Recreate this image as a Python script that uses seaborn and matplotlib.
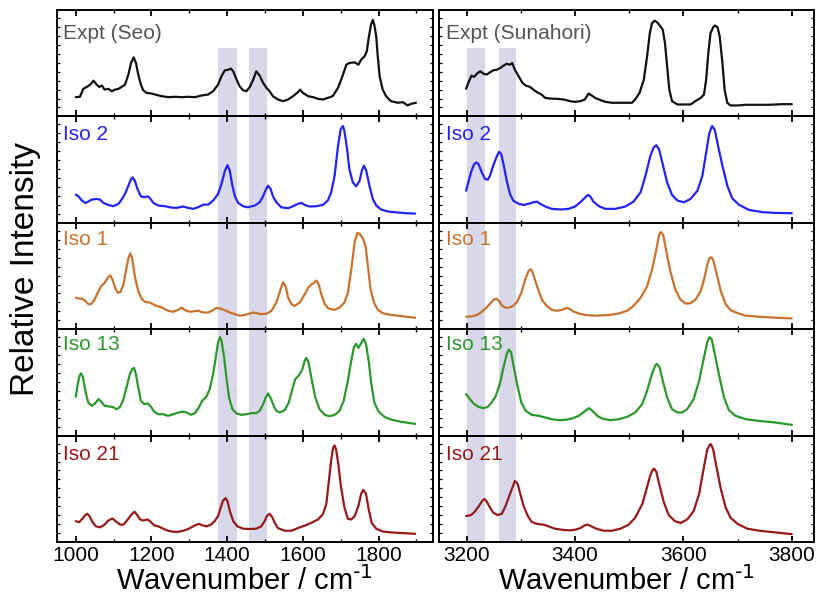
import numpy as np
import pandas as pd
import matplotlib
matplotlib.use("Agg")
import matplotlib.pyplot as plt
from matplotlib.ticker import MultipleLocator, FixedLocator
import seaborn as sns

# ---------------- data (intensity = fraction of panel height) -------------
# Low-frequency column (1000-1900 cm-1)
seo_wn = [1000, 1011, 1020, 1029, 1038, 1047, 1055, 1062, 1069, 1076, 1086, 1095, 1104, 1113, 1121, 1130,
          1139, 1146, 1153, 1159, 1165, 1172, 1178, 1187, 1200, 1209, 1227, 1244, 1262, 1280, 1297, 1315,
          1332, 1350, 1363, 1376, 1385, 1394, 1403, 1410, 1416, 1425, 1433, 1442, 1451, 1460, 1469, 1477,
          1486, 1495, 1504, 1512, 1521, 1534, 1548, 1561, 1574, 1587, 1593, 1600, 1614, 1627, 1640, 1653,
          1666, 1679, 1693, 1703, 1715, 1723, 1737, 1747, 1754, 1763, 1769, 1774, 1780, 1785, 1789, 1794,
          1798, 1803, 1811, 1820, 1833, 1851, 1864, 1877, 1886, 1899]
seo_int = [.181, .184, .259, .277, .299, .336, .299, .277, .290, .252, .259, .237, .252, .259, .277, .299,
           .393, .502, .555, .502, .393, .299, .246, .221, .215, .206, .190, .181, .184, .181, .184, .181,
           .196, .206, .237, .299, .377, .433, .439, .449, .424, .346, .283, .246, .237, .277, .346, .424,
           .383, .315, .268, .237, .190, .159, .143, .159, .190, .227, .252, .221, .190, .181, .165, .159,
           .174, .190, .268, .361, .486, .502, .508, .486, .533, .564, .611, .735, .860, .907, .860, .751,
           .564, .377, .252, .190, .143, .128, .134, .103, .118, .128]

iso2_lo_wn = [1000, 1007, 1016, 1025, 1033, 1042, 1055, 1064, 1073, 1086, 1099, 1113, 1121, 1130, 1139, 1146,
              1150, 1156, 1163, 1172, 1181, 1190, 1196, 1205, 1218, 1236, 1253, 1266, 1284, 1297, 1310, 1323,
              1337, 1350, 1363, 1376, 1385, 1394, 1401, 1407, 1413, 1420, 1429, 1442, 1455, 1473, 1486, 1495,
              1501, 1508, 1515, 1521, 1530, 1543, 1561, 1574, 1587, 1596, 1605, 1618, 1636, 1653, 1666, 1675,
              1684, 1693, 1700, 1706, 1710, 1717, 1723, 1732, 1741, 1750, 1756, 1761, 1767, 1776, 1785, 1794,
              1807, 1825, 1851, 1873, 1897]
iso2_lo_int = [.265, .249, .209, .187, .199, .218, .224, .218, .187, .168, .156, .178, .218, .271, .349, .411,
               .427, .396, .318, .249, .240, .249, .231, .187, .162, .156, .143, .140, .153, .140, .131, .146,
               .171, .171, .209, .271, .364, .489, .542, .489, .364, .255, .187, .156, .146, .162, .193, .249,
               .302, .349, .318, .249, .193, .146, .137, .156, .178, .187, .168, .153, .156, .168, .209, .287,
               .442, .723, .879, .910, .863, .692, .505, .380, .343, .396, .489, .536, .498, .349, .224, .162,
               .125, .106, .097, .090, .087]

iso1_lo_wn = [1000, 1009, 1016, 1025, 1033, 1040, 1049, 1058, 1067, 1076, 1084, 1091, 1097, 1104, 1111, 1118,
              1126, 1133, 1139, 1144, 1149, 1156, 1165, 1174, 1183, 1196, 1209, 1227, 1244, 1257, 1271, 1280,
              1288, 1302, 1315, 1323, 1337, 1350, 1363, 1372, 1381, 1394, 1407, 1420, 1433, 1447, 1460, 1469,
              1477, 1490, 1504, 1517, 1530, 1541, 1548, 1555, 1561, 1570, 1578, 1592, 1605, 1614, 1622, 1629,
              1636, 1642, 1649, 1658, 1668, 1684, 1697, 1710, 1719, 1728, 1737, 1744, 1750, 1759, 1766, 1772,
              1779, 1788, 1798, 1811, 1829, 1851, 1873, 1897]
iso1_lo_int = [.296, .287, .287, .265, .235, .235, .275, .343, .404, .435, .481, .506, .466, .389, .343, .349,
               .420, .559, .667, .713, .667, .497, .358, .287, .256, .250, .225, .204, .173, .164, .182, .204,
               .179, .164, .170, .173, .157, .157, .179, .201, .194, .179, .157, .142, .127, .133, .148, .157,
               .151, .142, .145, .173, .250, .373, .441, .398, .296, .235, .219, .250, .327, .389, .420, .435,
               .457, .420, .327, .235, .194, .182, .204, .250, .343, .559, .821, .904, .898, .852, .775, .590,
               .373, .250, .182, .151, .136, .127, .117, .108]

iso13_lo_wn = [1000, 1005, 1010, 1014, 1019, 1026, 1033, 1042, 1051, 1060, 1067, 1076, 1086, 1097, 1108, 1117,
               1126, 1134, 1143, 1149, 1154, 1159, 1165, 1172, 1181, 1190, 1199, 1207, 1218, 1231, 1244, 1258,
               1271, 1284, 1293, 1304, 1315, 1325, 1334, 1345, 1354, 1363, 1370, 1376, 1381, 1385, 1392, 1398,
               1405, 1414, 1425, 1438, 1451, 1464, 1477, 1486, 1495, 1502, 1508, 1515, 1523, 1530, 1539, 1552,
               1563, 1571, 1580, 1589, 1598, 1605, 1609, 1615, 1624, 1633, 1644, 1658, 1671, 1684, 1697, 1708,
               1719, 1728, 1735, 1741, 1747, 1754, 1761, 1767, 1774, 1781, 1789, 1800, 1816, 1833, 1860, 1897]
iso13_lo_int = [.365, .484, .563, .585, .547, .406, .311, .280, .302, .343, .321, .280, .274, .270, .248, .270,
                .343, .453, .579, .626, .635, .579, .453, .327, .296, .302, .270, .226, .201, .201, .186, .201,
                .217, .226, .217, .195, .211, .264, .327, .365, .437, .579, .736, .877, .925, .893, .736, .547,
                .358, .248, .208, .195, .201, .211, .211, .233, .296, .358, .396, .352, .280, .233, .217, .239,
                .311, .421, .531, .563, .616, .704, .730, .689, .516, .358, .248, .195, .182, .195, .233, .327,
                .516, .704, .830, .862, .824, .868, .909, .862, .704, .484, .311, .226, .176, .151, .129, .110]

iso21_lo_wn = [1000, 1009, 1018, 1025, 1030, 1036, 1044, 1053, 1064, 1076, 1086, 1097, 1105, 1117, 1126, 1134,
               1146, 1155, 1161, 1170, 1178, 1190, 1196, 1207, 1218, 1231, 1244, 1258, 1271, 1284, 1297, 1310,
               1319, 1326, 1334, 1345, 1357, 1367, 1376, 1383, 1389, 1396, 1401, 1407, 1416, 1427, 1442, 1460,
               1477, 1490, 1499, 1505, 1512, 1519, 1526, 1534, 1552, 1570, 1587, 1605, 1622, 1640, 1653, 1662,
               1668, 1675, 1680, 1684, 1688, 1694, 1701, 1710, 1719, 1728, 1737, 1747, 1754, 1760, 1767, 1774,
               1782, 1794, 1811, 1833, 1868, 1897]
iso21_lo_int = [.196, .186, .221, .253, .266, .244, .189, .147, .138, .163, .202, .221, .196, .163, .163, .196,
                .253, .285, .260, .212, .202, .212, .196, .157, .147, .125, .106, .096, .096, .106, .122, .147,
                .163, .170, .157, .147, .163, .196, .244, .324, .388, .413, .381, .292, .196, .147, .125, .122,
                .125, .147, .196, .244, .266, .234, .179, .131, .106, .106, .131, .154, .179, .212, .260, .356,
                .548, .772, .885, .907, .869, .724, .516, .324, .218, .212, .244, .340, .452, .490, .452, .308,
                .179, .125, .099, .090, .083, .077]

# High-frequency column (3200-3800 cm-1)
suna_wn = [3199, 3203, 3209, 3214, 3219, 3225, 3231, 3237, 3243, 3249, 3256, 3262, 3268, 3274, 3280, 3284,
           3289, 3296, 3303, 3309, 3317, 3323, 3330, 3338, 3345, 3354, 3367, 3379, 3391, 3400, 3410, 3418,
           3422, 3425, 3431, 3437, 3447, 3456, 3468, 3481, 3496, 3505, 3511, 3519, 3527, 3533, 3538, 3542,
           3547, 3552, 3558, 3562, 3566, 3570, 3574, 3579, 3589, 3601, 3613, 3622, 3632, 3638, 3642, 3646,
           3650, 3655, 3658, 3663, 3667, 3672, 3676, 3681, 3687, 3700, 3715, 3733, 3758, 3783, 3800]
suna_int = [.259, .315, .383, .371, .402, .424, .402, .393, .414, .433, .439, .455, .477, .495, .486, .502,
            .439, .377, .315, .290, .277, .252, .227, .206, .174, .168, .165, .159, .143, .137, .143, .159,
            .190, .215, .196, .174, .153, .137, .128, .128, .128, .128, .159, .221, .346, .564, .782, .875,
            .900, .882, .844, .813, .688, .470, .252, .143, .112, .112, .112, .143, .174, .206, .346, .595,
            .782, .838, .854, .838, .751, .502, .252, .128, .103, .103, .109, .109, .109, .115, .115]

iso2_hi_wn = [3199, 3203, 3209, 3214, 3218, 3222, 3228, 3234, 3239, 3243, 3249, 3256, 3260, 3264, 3268, 3274,
              3280, 3286, 3296, 3305, 3314, 3323, 3330, 3336, 3345, 3357, 3373, 3388, 3400, 3410, 3419, 3424,
              3428, 3434, 3444, 3456, 3474, 3493, 3508, 3521, 3530, 3539, 3545, 3550, 3555, 3561, 3570, 3579,
              3589, 3601, 3613, 3626, 3635, 3642, 3648, 3653, 3658, 3664, 3672, 3681, 3690, 3703, 3721, 3746,
              3770, 3800]
iso2_hi_int = [.302, .380, .489, .551, .567, .551, .474, .411, .405, .442, .536, .629, .667, .645, .551, .396,
               .271, .209, .178, .168, .178, .193, .199, .178, .153, .131, .125, .131, .153, .193, .240, .262,
               .249, .199, .156, .131, .131, .153, .199, .287, .442, .629, .707, .729, .692, .567, .380, .262,
               .209, .193, .224, .302, .442, .660, .847, .910, .872, .723, .536, .349, .231, .168, .121, .100,
               .093, .090]

iso1_hi_wn = [3199, 3209, 3219, 3228, 3237, 3246, 3251, 3255, 3260, 3265, 3271, 3277, 3284, 3293, 3301, 3308,
              3314, 3318, 3321, 3326, 3333, 3339, 3348, 3357, 3367, 3376, 3383, 3387, 3391, 3397, 3407, 3419,
              3437, 3462, 3481, 3496, 3508, 3521, 3533, 3542, 3550, 3555, 3558, 3563, 3568, 3576, 3585, 3595,
              3604, 3613, 3622, 3632, 3638, 3644, 3648, 3652, 3655, 3661, 3669, 3678, 3687, 3700, 3715, 3740,
              3770, 3800]
iso1_hi_int = [.117, .120, .133, .164, .204, .256, .281, .287, .265, .225, .204, .201, .213, .256, .343, .466,
               .543, .565, .543, .466, .358, .275, .219, .182, .173, .182, .198, .198, .188, .167, .148, .133,
               .127, .133, .148, .173, .219, .296, .404, .559, .744, .883, .914, .883, .744, .543, .373, .275,
               .241, .244, .275, .358, .466, .605, .667, .676, .651, .528, .358, .235, .179, .151, .127, .117,
               .108, .102]

iso13_hi_wn = [3199, 3206, 3214, 3222, 3231, 3239, 3246, 3254, 3262, 3268, 3274, 3278, 3282, 3286, 3293, 3301,
               3309, 3320, 3333, 3345, 3357, 3370, 3382, 3394, 3407, 3419, 3426, 3432, 3441, 3450, 3465, 3481,
               3496, 3511, 3524, 3533, 3542, 3548, 3551, 3556, 3562, 3570, 3579, 3589, 3598, 3607, 3619, 3629,
               3638, 3644, 3648, 3652, 3658, 3666, 3675, 3684, 3696, 3715, 3740, 3770, 3800]
iso13_hi_int = [.390, .343, .296, .270, .258, .270, .311, .374, .500, .642, .767, .808, .783, .673, .484, .311,
                .233, .195, .186, .170, .154, .145, .148, .160, .186, .233, .258, .233, .186, .160, .145, .154,
                .176, .217, .296, .421, .579, .657, .673, .642, .516, .358, .248, .217, .217, .248, .343, .516,
                .736, .877, .925, .909, .767, .563, .358, .239, .186, .154, .138, .123, .101]

iso21_hi_wn = [3199, 3208, 3215, 3223, 3229, 3233, 3237, 3243, 3249, 3257, 3265, 3272, 3280, 3286, 3289, 3294,
               3299, 3305, 3313, 3320, 3330, 3342, 3351, 3363, 3376, 3388, 3400, 3410, 3418, 3424, 3430, 3441,
               3453, 3468, 3484, 3499, 3511, 3524, 3533, 3539, 3544, 3546, 3550, 3556, 3564, 3573, 3584, 3595,
               3607, 3619, 3629, 3638, 3644, 3649, 3651, 3655, 3661, 3669, 3678, 3687, 3700, 3718, 3740, 3770,
               3800]
iso21_hi_int = [.244, .253, .285, .340, .388, .404, .381, .324, .276, .253, .266, .340, .452, .532, .574, .548,
                .452, .340, .244, .189, .170, .163, .147, .125, .115, .109, .115, .131, .157, .163, .147, .122,
                .106, .106, .125, .163, .228, .356, .516, .628, .683, .689, .660, .532, .372, .253, .196, .179,
                .212, .292, .452, .708, .869, .917, .917, .869, .708, .500, .324, .228, .170, .125, .106, .090,
                .074]

panel_labels = ["Expt (Seo)", "Iso 2", "Iso 1", "Iso 13", "Iso 21"]
panel_labels_hi = ["Expt (Sunahori)", "Iso 2", "Iso 1", "Iso 13", "Iso 21"]
bands_lo = [(1377, 1425), (1459, 1506)]
bands_hi = [(3201, 3234), (3259, 3291)]
lo_ticks = [1000, 1200, 1400, 1600, 1800]
hi_ticks = [3200, 3400, 3600, 3800]

lo_series = [(seo_wn, seo_int), (iso2_lo_wn, iso2_lo_int), (iso1_lo_wn, iso1_lo_int),
             (iso13_lo_wn, iso13_lo_int), (iso21_lo_wn, iso21_lo_int)]
hi_series = [(suna_wn, suna_int), (iso2_hi_wn, iso2_hi_int), (iso1_hi_wn, iso1_hi_int),
             (iso13_hi_wn, iso13_hi_int), (iso21_hi_wn, iso21_hi_int)]

line_colors = ["#111111", "#2424f0", "#c8722e", "#2b982b", "#961a1a"]
label_colors = ["#555555", "#2424f0", "#c8722e", "#2b982b", "#961a1a"]
label_y = [0.78, 0.83, 0.84, 0.86, 0.82]
band_color = "#d8d8ea"

# ---------------- style ----------------
sns.set_style("ticks")
plt.rcParams["font.family"] = ["Liberation Sans", "DejaVu Sans"]
plt.rcParams["text.color"] = "black"
plt.rcParams["xtick.color"] = "black"
plt.rcParams["ytick.color"] = "black"
plt.rcParams["axes.labelcolor"] = "black"
narrow = ["Liberation Sans Narrow", "Liberation Sans", "DejaVu Sans"]

fig = plt.figure(figsize=(8.16, 6.05), dpi=100)
top, bottom = 1 - 10 / 605, 1 - 542 / 605
gs_lo = fig.add_gridspec(5, 1, left=56.5 / 816, right=433 / 816, top=top, bottom=bottom, hspace=0)
gs_hi = fig.add_gridspec(5, 1, left=439 / 816, right=814 / 816, top=top, bottom=bottom, hspace=0)


def draw_column(gs, series, labels, bands, xlim, ticks, label_x):
    axes = []
    for i in range(5):
        ax = fig.add_subplot(gs[i, 0])
        wn, inten = series[i]
        df = pd.DataFrame({"wn": wn, "intensity": inten})
        for (b0, b1) in bands:
            ax.axvspan(b0, b1, ymin=0, ymax=(0.645 if i == 0 else 1.0),
                       color=band_color, lw=0, zorder=0)
        sns.lineplot(data=df, x="wn", y="intensity", ax=ax, color=line_colors[i],
                     lw=1.6, sort=False, estimator=None, zorder=3)
        ax.set_xlim(*xlim)
        ax.set_ylim(0, 1)
        ax.xaxis.set_major_locator(FixedLocator(ticks))
        ax.xaxis.set_minor_locator(MultipleLocator(100))
        ax.yaxis.set_major_locator(FixedLocator(list(np.arange(0.084, 1.0, 0.168))))
        ax.yaxis.set_minor_locator(FixedLocator(list(np.arange(0.168, 1.0, 0.168))))
        ax.tick_params(axis="x", which="major", direction="in", length=4.5, width=1.3,
                       top=True, bottom=True, pad=3, colors="black")
        ax.tick_params(axis="x", which="minor", direction="in", length=2.5, width=1.0,
                       top=True, bottom=True)
        ax.tick_params(axis="y", which="both", direction="in", length=2.5, width=0.9,
                       left=True, right=True, labelleft=False)
        for s in ax.spines.values():
            s.set_linewidth(1.4)
            s.set_color("black")
        ax.set_ylabel("")
        ax.set_xlabel("")
        ax.text(label_x, label_y[i], labels[i], transform=ax.transAxes, ha="left", va="center",
                fontsize=15, color=label_colors[i])
        if i < 4:
            ax.tick_params(axis="x", labelbottom=False)
        else:
            for lab in ax.get_xticklabels():
                lab.set_fontfamily(narrow)
                lab.set_fontsize(15)
                lab.set_color("black")
            ax.set_xlabel(r"Wavenumber / cm$^{\text{-1}}$", fontsize=21, labelpad=1,
                          color="black")
        axes.append(ax)
    return axes


draw_column(gs_lo, lo_series, panel_labels, bands_lo, (949, 1944), lo_ticks, 0.018)
draw_column(gs_hi, hi_series, panel_labels_hi, bands_hi, (3149, 3841), hi_ticks, 0.02)

fig.text(0.031, 0.555, "Relative Intensity", rotation=90, ha="center", va="center",
         fontsize=24, color="black")

fig.savefig("out.png", dpi=100)
